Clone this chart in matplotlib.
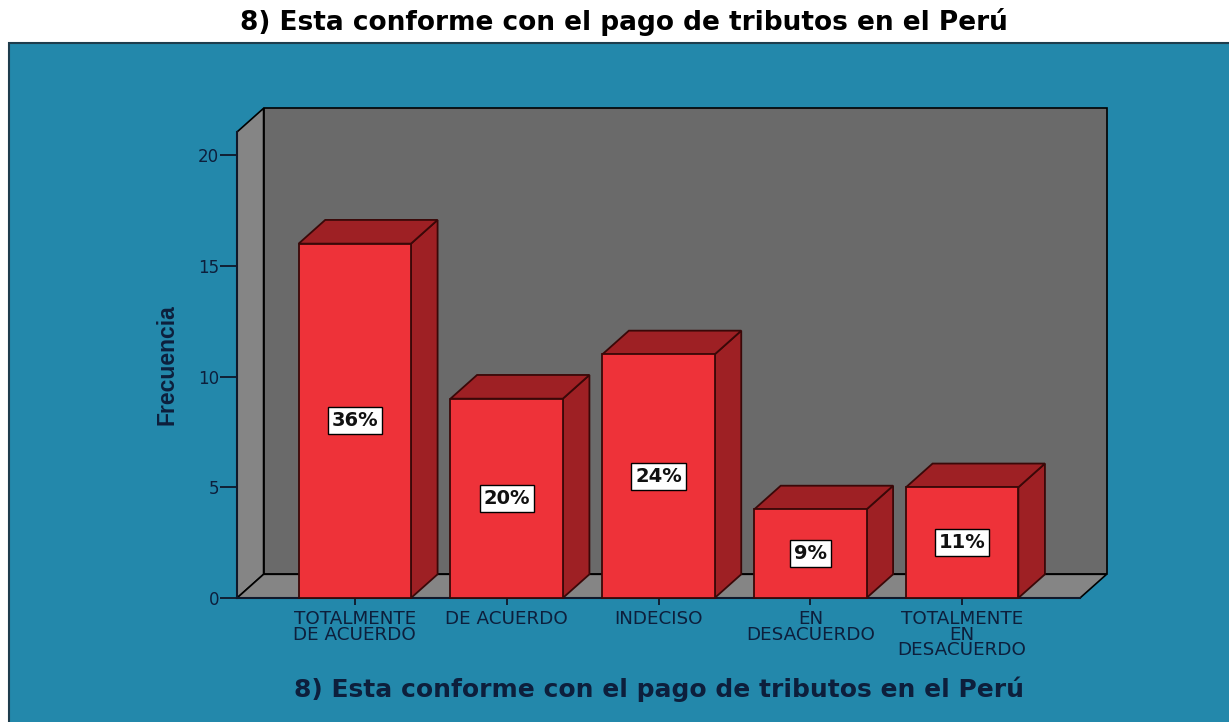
"""
Grafico de barras 3D estilo SPSS: conformidad con el pago de tributos
"""

import matplotlib.pyplot as plt
from matplotlib.patches import Polygon, Rectangle

# datos del grafico
categorias = ['TOTALMENTE\nDE ACUERDO', 'DE ACUERDO', 'INDECISO',
              'EN\nDESACUERDO', 'TOTALMENTE\nEN\nDESACUERDO']
frecuencia = [16, 9, 11, 4, 5]
porcentajes = ['36%', '20%', '24%', '9%', '11%']
y_ticks = [0, 5, 10, 15, 20]
titulo = '8) Esta conforme con el pago de tributos en el Perú'

# colores
PANEL = '#2388ab'
PARED = '#6a6a6a'
LATERAL = '#858585'
FRENTE = '#ee3239'
OSCURO = '#9e2024'
BORDE = '#3a0808'
NAVY = '#0d1f3c'

# profundidad 3D en unidades de datos
DX, DY = 0.175, 1.07
ANCHO = 0.74
YMAX = 21.04

fig = plt.figure(figsize=(12.29, 7.22), dpi=100)
fig.patch.set_facecolor('white')

# panel azul de fondo
fig.add_artist(Rectangle((9 / 1229, -0.01), 1.0, (722 - 43) / 722 + 0.01,
                         transform=fig.transFigure, facecolor=PANEL,
                         edgecolor='#1e3d4d', linewidth=1.5, zorder=-1))

fig.text(0.508, 0.969, titulo, ha='center', va='center', fontsize=19,
         fontweight='bold', color='black', family='DejaVu Sans')

ax = fig.add_axes([237 / 1229, 124 / 722, (1080 - 237) / 1229, (598 - 132) / 722])
ax.set_facecolor('none')
n = len(categorias)
x0, x1 = -0.776, n - 1 + 0.776
ax.set_xlim(x0, x1)
ax.set_ylim(0, YMAX)

# pared del fondo, lateral y piso
ax.add_patch(Polygon([(x0 + DX, DY), (x1 + DX, DY), (x1 + DX, YMAX + DY),
                      (x0 + DX, YMAX + DY)], closed=True, facecolor=PARED,
                     edgecolor='black', linewidth=1.2, clip_on=False, zorder=0))
ax.add_patch(Polygon([(x0, 0), (x0 + DX, DY), (x0 + DX, YMAX + DY), (x0, YMAX)],
                     closed=True, facecolor=LATERAL, edgecolor='black',
                     linewidth=1.2, clip_on=False, zorder=0.5))
ax.add_patch(Polygon([(x0, 0), (x1, 0), (x1 + DX, DY), (x0 + DX, DY)],
                     closed=True, facecolor=LATERAL, edgecolor='black',
                     linewidth=1.2, clip_on=False, zorder=0.5))

# barras 3D
for i, (h, p) in enumerate(zip(frecuencia, porcentajes)):
    a, b = i - ANCHO / 2, i + ANCHO / 2
    ax.add_patch(Polygon([(b, 0), (b + DX, DY), (b + DX, h + DY), (b, h)],
                         closed=True, facecolor=OSCURO, edgecolor=BORDE,
                         linewidth=1.3, clip_on=False, zorder=2))
    ax.add_patch(Polygon([(a, h), (b, h), (b + DX, h + DY), (a + DX, h + DY)],
                         closed=True, facecolor=OSCURO, edgecolor=BORDE,
                         linewidth=1.3, clip_on=False, zorder=2))
    ax.bar(i, h, width=ANCHO, color=FRENTE, edgecolor=BORDE, linewidth=1.3,
           zorder=3, clip_on=False)
    ax.text(i, h / 2, p, ha='center', va='center', fontsize=14,
            fontweight='bold', color='#111111', zorder=5,
            bbox=dict(boxstyle='square,pad=0.2', facecolor='white',
                      edgecolor='black', linewidth=1))

for s in ['top', 'right']:
    ax.spines[s].set_visible(False)
for s in ['left', 'bottom']:
    ax.spines[s].set_color('#10182a')
    ax.spines[s].set_linewidth(1.5)
    ax.spines[s].set_zorder(1)

ax.set_yticks(y_ticks)
ax.set_xticks(range(n))
ax.set_xticklabels(categorias, linespacing=0.82)
ax.tick_params(axis='y', length=12, width=1.3, color='#10182a', pad=1,
               labelsize=12, labelcolor=NAVY)
ax.tick_params(axis='x', length=5, width=1.3, color='#10182a', pad=4,
               labelsize=13.2, labelcolor=NAVY)

ax.set_ylabel('Frecuencia', fontsize=16.5, fontweight='bold', color=NAVY,
              family='Liberation Sans', labelpad=14)
ax.set_xlabel(titulo, fontsize=18, fontweight='bold', color=NAVY, labelpad=12)

fig.savefig('out.png', dpi=100, facecolor='white')
